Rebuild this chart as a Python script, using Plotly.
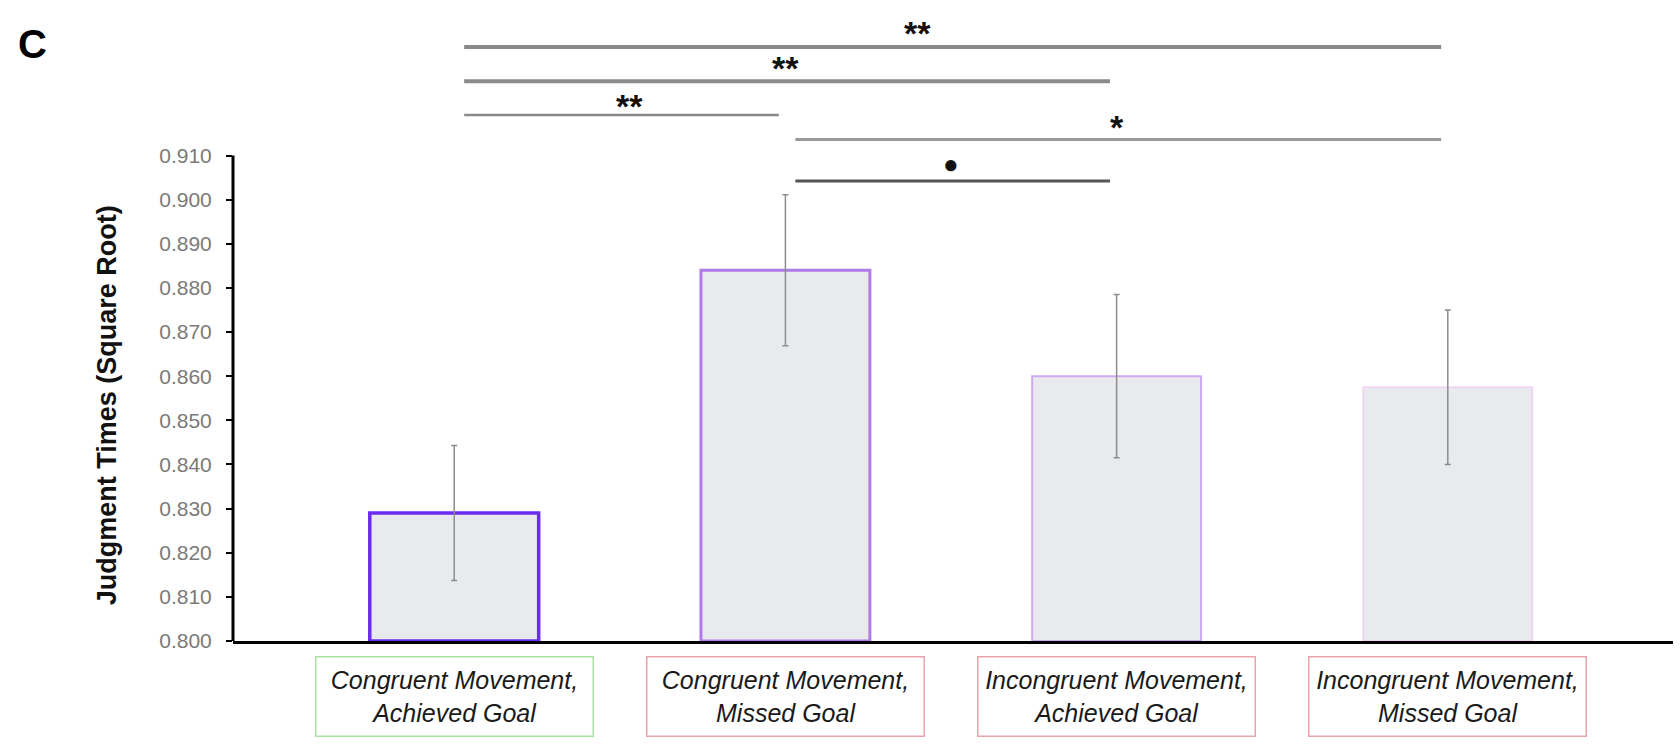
import plotly.graph_objects as go

# Conditions, means and error (± half-range) of square-root judgment times
conditions = [
    "Congruent Movement,<br>Achieved Goal",
    "Congruent Movement,<br>Missed Goal",
    "Incongruent Movement,<br>Achieved Goal",
    "Incongruent Movement,<br>Missed Goal",
]
means = [0.829, 0.884, 0.860, 0.8575]
errors = [0.0153, 0.0171, 0.0185, 0.0175]
y_ticks = [0.800, 0.810, 0.820, 0.830, 0.840, 0.850, 0.860, 0.870, 0.880, 0.890, 0.900, 0.910]

# Pairwise comparisons: (first bar, second bar, bracket level, label, label x, label level)
comparisons = [
    (0, 3, 0.9346, "**", 1.40, 0.9384),
    (0, 2, 0.9268, "**", 1.00, 0.9306),
    (0, 1, 0.9192, "**", 0.53, 0.9218),
    (1, 3, 0.9136, "*", 2.00, 0.9172),
    (1, 2, 0.9042, "●", 1.50, 0.9080),
]

bar_edge_colors = ["#6a2cf0", "#b07ae8", "#cfaaf2", "#f0d6ef"]
bar_edge_widths = [3.5, 3, 2, 2]
box_edge_colors = ["#a9e3a3", "#eba3ab", "#eba3ab", "#eba3ab"]
bracket_colors = ["#8a8a8a", "#8a8a8a", "#8a8a8a", "#9a9a9a", "#555555"]
bracket_widths = [4, 4, 2.5, 3, 3]
font_family = "Liberation Sans, Arial, sans-serif"

x_pos = list(range(len(conditions)))

fig = go.Figure()
fig.add_trace(go.Bar(
    x=x_pos,
    y=[m - y_ticks[0] for m in means],
    base=y_ticks[0],
    width=0.51,
    marker=dict(color="#e8eaee",
                line=dict(color=bar_edge_colors, width=bar_edge_widths)),
    error_y=dict(type="data", array=errors, color="#8c8c8c",
                 thickness=1.5, width=3),
    showlegend=False,
    hoverinfo="skip",
))

shapes = []
annotations = []

# Vertical axis line only spanning the tick range
shapes.append(dict(type="line", xref="x domain", yref="y",
                   x0=0, x1=0, y0=y_ticks[0], y1=y_ticks[-1],
                   line=dict(color="black", width=3)))

# Significance brackets
for k, (a, b, lvl, lab, lx, ly) in enumerate(comparisons):
    shapes.append(dict(type="line", xref="x", yref="y",
                       x0=a + 0.03, x1=b - 0.02, y0=lvl, y1=lvl,
                       line=dict(color=bracket_colors[k], width=bracket_widths[k])))
    is_dot = lab == "●"
    annotations.append(dict(
        x=lx, y=ly, xref="x", yref="y",
        text=lab if is_dot else "<b>" + lab + "</b>", showarrow=False,
        font=dict(family=font_family, size=26 if is_dot else 34, color="#111111"),
        xanchor="center", yanchor="middle", yshift=0 if is_dot else -3))

# Boxed category labels below the axis
for i, name in enumerate(conditions):
    annotations.append(dict(
        x=i, y=-0.0886, xref="x", yref="paper", text="<i>" + name + "</i>",
        showarrow=False, xanchor="center", yanchor="middle",
        width=270, height=72, borderpad=3,
        bordercolor=box_edge_colors[i], borderwidth=1.5,
        font=dict(family=font_family, size=25, color="#1a1a1a")))

# Axis title
annotations.append(dict(
    x=-0.0875, y=0.8534, xref="paper", yref="y",
    text="<b>Judgment Times (Square Root)</b>", textangle=-90,
    showarrow=False, xanchor="center", yanchor="middle",
    font=dict(family=font_family, size=27, color="#111111")))

# Panel letter
annotations.append(dict(
    x=-0.139, y=0.961, xref="paper", yref="paper", text="<b>C</b>",
    showarrow=False, xanchor="center", yanchor="middle",
    font=dict(family=font_family, size=40, color="black")))

fig.update_layout(
    width=1680, height=744,
    margin=dict(l=233, r=7, t=20, b=103),
    plot_bgcolor="white", paper_bgcolor="white",
    shapes=shapes, annotations=annotations,
    xaxis=dict(range=[-0.668, 3.68], showticklabels=False, ticks="",
               showgrid=False, zeroline=False,
               showline=True, linecolor="black", linewidth=3),
    yaxis=dict(range=[0.8, 0.9407], tickvals=y_ticks,
               ticktext=[f"{v:.3f}" for v in y_ticks],
               ticks="outside", ticklen=6, tickwidth=2, tickcolor="black",
               ticklabelstandoff=10,
               tickfont=dict(family=font_family, size=21, color="#7a7a7a"),
               showgrid=False, zeroline=False, showline=False),
)

fig.write_html("out.html")
